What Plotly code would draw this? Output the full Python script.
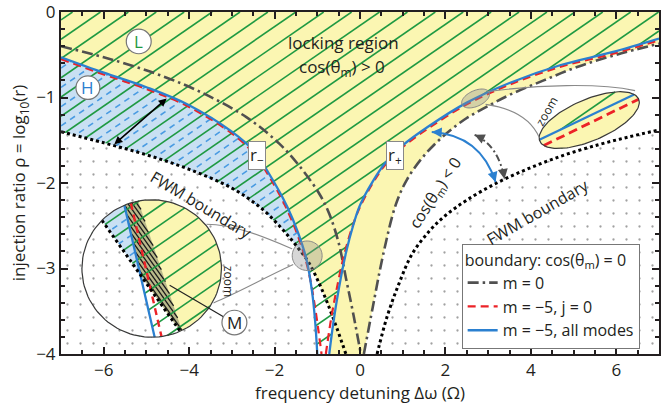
import numpy as np
import plotly.graph_objects as go

# ---------------------------------------------------------------------------
# Boundary curves  (x = frequency detuning Δω in Ω,  y = ρ = log10 r)
# ---------------------------------------------------------------------------
r_minus_x = [-7.0, -6.0, -5.0, -4.0, -3.0, -2.5, -2.0, -1.7, -1.45, -1.25, -1.12, -1.05, -1.0]
r_minus_y = [-0.53, -0.71, -0.88, -1.09, -1.40, -1.62, -2.00, -2.28, -2.58, -2.90, -3.28, -3.62, -4.0]
r_plus_x = [-0.72, -0.62, -0.50, -0.33, -0.15, 0.0, 0.3, 0.6, 1.0, 1.6, 2.5, 3.5, 4.7, 5.9, 7.0]
r_plus_y = [-4.0, -3.62, -3.25, -2.82, -2.48, -2.26, -1.98, -1.76, -1.56, -1.34, -1.06, -0.83, -0.62, -0.47, -0.31]

j0_minus_x = [-7.0, -6.0, -5.0, -4.0, -3.0, -2.5, -2.0, -1.7, -1.43, -1.22, -1.07, -0.97, -0.90]
j0_minus_y = [-0.55, -0.73, -0.90, -1.11, -1.42, -1.65, -2.03, -2.32, -2.65, -3.00, -3.40, -3.74, -4.0]
j0_plus_x = [-0.80, -0.68, -0.55, -0.37, -0.17, 0.0, 0.3, 0.6, 1.0, 1.6, 2.5, 3.5, 4.7, 5.9, 7.0]
j0_plus_y = [-4.0, -3.60, -3.25, -2.84, -2.50, -2.28, -2.00, -1.78, -1.58, -1.36, -1.08, -0.85, -0.64, -0.49, -0.33]

m0_left_x = [-7.0, -6.0, -4.9, -3.8, -2.66, -1.89, -1.42, -0.96, -0.72, -0.5, -0.33, -0.15, 0.02]
m0_left_y = [-0.40, -0.53, -0.70, -0.92, -1.23, -1.54, -1.80, -2.12, -2.36, -2.70, -3.11, -3.55, -4.0]
m0_right_x = [0.09, 0.3, 0.55, 0.84, 1.1, 1.5, 2.0, 2.5, 3.0, 3.5, 4.3, 5.1, 6.0, 7.0]
m0_right_y = [-4.0, -3.45, -2.82, -2.25, -1.96, -1.68, -1.43, -1.24, -1.10, -0.97, -0.80, -0.64, -0.50, -0.37]

fwm_left_x = [-7.0, -6.0, -5.0, -4.0, -3.0, -2.3, -1.8, -1.45, -1.2, -0.95, -0.75, -0.54, -0.33]
fwm_left_y = [-1.40, -1.53, -1.67, -1.84, -2.06, -2.30, -2.55, -2.76, -2.93, -3.18, -3.42, -3.70, -4.0]
fwm_right_x = [0.40, 0.63, 0.91, 1.21, 1.61, 2.0, 2.5, 3.2, 4.0, 4.8, 5.6, 6.3, 7.0]
fwm_right_y = [-4.0, -3.57, -3.18, -2.84, -2.57, -2.38, -2.20, -2.00, -1.82, -1.67, -1.55, -1.46, -1.38]

x_ticks = [-6, -4, -2, 0, 2, 4, 6]
y_ticks = [-4, -3, -2, -1, 0]

# ---------------------------------------------------------------------------
# Styling
# ---------------------------------------------------------------------------
YELLOW = '#fbf6b2'
LIGHT_BLUE = '#c9e0f3'
GREEN = '#1f9a42'
BLUE = '#2b80d0'
DASH_BLUE = '#4a9be2'
RED = '#ec2227'
GREY = '#505050'
FONT = 'Open Sans, sans-serif'
DOTS = dict(shape='.', size=13, solidity=0.025, fgcolor='#444444', fillmode='overlay')

W, H = 661, 408
PX_L, PX_T, PX_W, PX_H = 61, 6, 600, 348      # plot area in page pixels
X0, X1, Y0, Y1 = -7, 7, -4, 0


def to_x(px):
    return X0 + (np.asarray(px, float) - PX_L) / PX_W * (X1 - X0)


def to_y(py):
    return Y1 - (np.asarray(py, float) - PX_T) / PX_H * (Y1 - Y0)


def pts_to_data(pts):
    xs = [float(to_x(p[0])) for p in pts]
    ys = [float(to_y(p[1])) for p in pts]
    return xs, ys


# --- small geometry helpers (pixel space) ----------------------------------
def x_side(a, b):
    """>0 on the larger-x side of the (steep) line through a and b."""
    s = (b[0] - a[0]) / (b[1] - a[1])
    return lambda p: p[0] - (a[0] + s * (p[1] - a[1]))


def y_side(a, b):
    """>0 below (larger pixel y) the (shallow) line through a and b."""
    s = (b[1] - a[1]) / (b[0] - a[0])
    return lambda p: p[1] - (a[1] + s * (p[0] - a[0]))


def clip_poly(poly, f):
    out = []
    n = len(poly)
    for i in range(n):
        p, q = poly[i], poly[(i + 1) % n]
        fp, fq = f(p), f(q)
        if fp >= 0:
            out.append(p)
        if (fp >= 0) != (fq >= 0):
            t = fp / (fp - fq)
            out.append((p[0] + t * (q[0] - p[0]), p[1] + t * (q[1] - p[1])))
    return out


def clip_line(p0, p1, poly):
    cx = np.mean([p[0] for p in poly])
    cy = np.mean([p[1] for p in poly])
    d = (p1[0] - p0[0], p1[1] - p0[1])
    t0, t1 = 0.0, 1.0
    n = len(poly)
    for i in range(n):
        a, b = poly[i], poly[(i + 1) % n]
        nx, ny = -(b[1] - a[1]), b[0] - a[0]
        if nx * (cx - a[0]) + ny * (cy - a[1]) < 0:
            nx, ny = -nx, -ny
        num = nx * (p0[0] - a[0]) + ny * (p0[1] - a[1])
        den = nx * d[0] + ny * d[1]
        if abs(den) < 1e-12:
            if num < 0:
                return None
            continue
        t = -num / den
        if den > 0:
            t0 = max(t0, t)
        else:
            t1 = min(t1, t)
        if t0 > t1:
            return None
    return ((p0[0] + t0 * d[0], p0[1] + t0 * d[1]), (p0[0] + t1 * d[0], p0[1] + t1 * d[1]))


def ellipse(c, a, b, ang_deg, n=120):
    th = np.deg2rad(ang_deg)
    u = (np.cos(th), -np.sin(th))
    v = (np.sin(th), np.cos(th))
    ts = np.linspace(0, 2 * np.pi, n + 1)[:-1]
    return [(c[0] + a * np.cos(t) * u[0] + b * np.sin(t) * v[0],
             c[1] + a * np.cos(t) * u[1] + b * np.sin(t) * v[1]) for t in ts]


HATCH_K = np.tan(np.deg2rad(35))   # hatch slope (pixel space)
HATCH_STEP = 28                    # horizontal spacing of hatch lines, px


def hatch(poly, through, shift=0.0, step=HATCH_STEP, k=HATCH_K):
    """Diagonal hatch segments clipped to a convex pixel polygon."""
    xs_p = [p[0] for p in poly]
    ys_p = [p[1] for p in poly]
    xmin, xmax, ymin, ymax = min(xs_p), max(xs_p), min(ys_p), max(ys_p)
    span = abs(xmax - xmin) + (ymax - ymin) / abs(k)
    base = through[0] + (through[1] - ymin) / k + shift
    n0 = int(np.floor((xmin - span - base) / step)) - 1
    n1 = int(np.ceil((xmax + span - base) / step)) + 1
    segs = []
    L = span + 50
    for n in range(n0, n1 + 1):
        xi = base + n * step
        p0 = (xi - L, ymin + k * L)
        p1 = (xi + L, ymin - k * L)
        s = clip_line(p0, p1, poly)
        if s:
            segs.append(s)
    xs, ys = [], []
    for a, b in segs:
        dxs, dys = pts_to_data([a, b])
        xs += dxs + [None]
        ys += dys + [None]
    return xs, ys


fig = go.Figure()


def add_fill(xs, ys, color, pattern=None, outline=None, width=1.2):
    kw = dict(x=list(xs), y=list(ys), fill='toself', fillcolor=color,
              showlegend=False, hoverinfo='skip')
    if outline:
        kw.update(mode='lines', line=dict(color=outline, width=width))
    else:
        kw.update(mode='none')
    if pattern:
        kw['fillpattern'] = pattern
    fig.add_trace(go.Scatter(**kw))


def add_lines(xs, ys, color, width, dash=None):
    fig.add_trace(go.Scatter(x=xs, y=ys, mode='lines', showlegend=False, hoverinfo='skip',
                             line=dict(color=color, width=width, dash=dash)))


def crossing(ax, ay, bx, by):
    xs = np.linspace(max(min(ax), min(bx)), min(max(ax), max(bx)), 4000)
    d = np.interp(xs, ax, ay) - np.interp(xs, bx, by)
    i = np.where(np.sign(d[:-1]) != np.sign(d[1:]))[0][0]
    return float(xs[i]), float(np.interp(xs[i], ax, ay))


# ---------------------------------------------------------------------------
# Regions of the main panel
# ---------------------------------------------------------------------------
plot_rect = [(PX_L, PX_T), (PX_L + PX_W, PX_T), (PX_L + PX_W, PX_T + PX_H), (PX_L, PX_T + PX_H)]
GREEN_THROUGH = (62, 33)

# below r− : light blue (later trimmed by the FWM region)
add_fill([X0] + r_minus_x, [Y0] + r_minus_y, LIGHT_BLUE)
# dashed blue hatch
hx, hy = hatch(plot_rect, GREEN_THROUGH, shift=HATCH_STEP / 2)
add_lines(hx, hy, DASH_BLUE, 1.6, dash='6px,5px')
# yellow: cos(θm) > 0
add_fill([X0, X1] + m0_right_x[::-1] + r_minus_x[::-1],
         [Y1, Y1] + m0_right_y[::-1] + r_minus_y[::-1], YELLOW)
# white below the left FWM boundary
add_fill([X0] + fwm_left_x, [Y0] + fwm_left_y, 'white')
# green hatch: locking region
hx, hy = hatch(plot_rect, GREEN_THROUGH)
add_lines(hx, hy, GREEN, 1.6)

# stippled FWM region left of r−
xc, yc = crossing(r_minus_x, r_minus_y, fwm_left_x, fwm_left_y)
lx = [X0] + [v for v in fwm_left_x if v < xc] + [xc] + [v for v in r_minus_x if v > xc]
ly = ([Y0] + [fwm_left_y[i] for i, v in enumerate(fwm_left_x) if v < xc] + [yc]
      + [r_minus_y[i] for i, v in enumerate(r_minus_x) if v > xc])
add_fill(lx, ly, 'white', pattern=DOTS)
# right of r+ : yellow strip, then white cos(θm) < 0, then stippled FWM region
add_fill(r_plus_x + [X1], r_plus_y + [Y0], YELLOW)
add_fill(m0_right_x + [X1], m0_right_y + [Y0], 'white')
add_fill(fwm_right_x + [X1], fwm_right_y + [Y0], 'white', pattern=DOTS)

# ---------------------------------------------------------------------------
# Boundary curves
# ---------------------------------------------------------------------------
fig.add_trace(go.Scatter(x=m0_left_x + [None] + m0_right_x, y=m0_left_y + [None] + m0_right_y,
                         mode='lines', name='m = 0', line_shape='spline', hoverinfo='skip',
                         line=dict(color=GREY, width=2.6, dash='11px,4px,2.5px,4px')))
fig.add_trace(go.Scatter(x=fwm_left_x + [None] + fwm_right_x, y=fwm_left_y + [None] + fwm_right_y,
                         mode='lines', showlegend=False, line_shape='spline', hoverinfo='skip',
                         line=dict(color='black', width=3, dash='3px,3px')))
fig.add_trace(go.Scatter(x=j0_minus_x + [None] + j0_plus_x, y=j0_minus_y + [None] + j0_plus_y,
                         mode='lines', name='m = −5, j = 0', line_shape='spline', hoverinfo='skip',
                         line=dict(color=RED, width=2.2, dash='8px,5px')))
fig.add_trace(go.Scatter(x=r_minus_x + [None] + r_plus_x, y=r_minus_y + [None] + r_plus_y,
                         mode='lines', name='m = −5, all modes', line_shape='spline', hoverinfo='skip',
                         line=dict(color=BLUE, width=2.3)))

# ---------------------------------------------------------------------------
# Magnified view of the r− / FWM crossing (circle)
# ---------------------------------------------------------------------------
LC, LR = (152, 267), 70
circ = ellipse(LC, LR, LR, 0, 120)
Lb = ((124, 200), (155, 337))      # all-modes boundary
Lr = ((131, 200), (162, 337))      # j = 0 boundary
Ld = ((100, 215), (180, 330))      # FWM boundary
Lm = ((140, 203), (181, 326))      # edge of the narrow band M
right_b = x_side(*Lb)
right_d = x_side(*Ld)
left_m = lambda p: -x_side(*Lm)(p)

add_fill(*pts_to_data(circ), LIGHT_BLUE)
hx, hy = hatch(circ, (150, 230), shift=HATCH_STEP / 2)
add_lines(hx, hy, DASH_BLUE, 1.6, dash='6px,5px')
yel = clip_poly(clip_poly(circ, right_b), right_d)
add_fill(*pts_to_data(yel), YELLOW)
wht = clip_poly(circ, lambda p: -right_d(p))
add_fill(*pts_to_data(wht), 'white')
band = clip_poly(clip_poly(clip_poly(circ, right_b), right_d), left_m)
add_fill(*pts_to_data(band), '#b9b98a')
hx, hy = hatch(band, (130, 210), step=4.5, k=-np.tan(np.deg2rad(55)))
add_lines(hx, hy, '#1a1a1a', 1.3)
hx, hy = hatch(circ, (150, 230))
add_lines(hx, hy, GREEN, 1.6)
dots = clip_poly(clip_poly(circ, lambda p: -right_d(p)), lambda p: -right_b(p))
add_fill(*pts_to_data(dots), 'white', pattern=DOTS)
for ln, col, wd, ds in [(Lr, RED, 2.4, '7px,5px'), (Lb, BLUE, 2.3, None), (Ld, 'black', 3, '3px,3px')]:
    a, b = ln
    s = clip_line((a[0] - 3 * (b[0] - a[0]), a[1] - 3 * (b[1] - a[1])),
                  (b[0] + 3 * (b[0] - a[0]), b[1] + 3 * (b[1] - a[1])), circ)
    sx, sy = pts_to_data(list(s))
    add_lines(sx, sy, col, wd, dash=ds)
cx_, cy_ = pts_to_data(circ + [circ[0]])
add_lines(cx_, cy_, '#3a3a3a', 1.2)

# ---------------------------------------------------------------------------
# Magnified view along r+ (ellipse)
# ---------------------------------------------------------------------------
EC = (591, 116)
ell = ellipse(EC, 54, 21, 23.5, 120)
Eb = ((543, 135), (640, 88))
Er = ((547, 141), (632, 99))
add_fill(*pts_to_data(ell), YELLOW)
hx, hy = hatch(ell, (600, 60))
add_lines(hx, hy, GREEN, 1.6)
below = clip_poly(ell, y_side(*Eb))
add_fill(*pts_to_data(below), YELLOW)
for ln, col, wd, ds in [(Er, RED, 2.8, '9px,5px'), (Eb, BLUE, 2.3, None)]:
    a, b = ln
    s = clip_line((a[0] - 2 * (b[0] - a[0]), a[1] - 2 * (b[1] - a[1])),
                  (b[0] + 2 * (b[0] - a[0]), b[1] + 2 * (b[1] - a[1])), ell)
    sx, sy = pts_to_data(list(s))
    add_lines(sx, sy, col, wd, dash=ds)
ex_, ey_ = pts_to_data(ell + [ell[0]])
add_lines(ex_, ey_, '#3a3a3a', 1.2)

# ---------------------------------------------------------------------------
# Shapes: zoom markers, connectors, circled labels
# ---------------------------------------------------------------------------
def path_px(cmds):
    out = []
    for c in cmds:
        if isinstance(c, str):
            out.append(c)
        else:
            out.append(f"{float(to_x(c[0])):.4f},{float(to_y(c[1])):.4f}")
    return ' '.join(out)


shapes = []
# small translucent markers
mk = ellipse((308, 254), 15, 15, 0, 60)
shapes.append(dict(type='path', path=path_px(['M'] + [p for q in mk for p in (q, 'L')][:-1] + ['Z']),
                   fillcolor='rgba(140,140,140,0.35)', line=dict(color='#888', width=1)))
mk2 = ellipse((477, 94), 15, 8, 25, 60)
shapes.append(dict(type='path', path=path_px(['M'] + [p for q in mk2 for p in (q, 'L')][:-1] + ['Z']),
                   fillcolor='rgba(140,140,140,0.35)', line=dict(color='#888', width=1)))
# connectors
for cmd in (['M', (293, 247), 'C', (265, 235), (235, 222), (207, 222)],
            ['M', (294, 263), 'C', (262, 278), (238, 292), (214, 302)],
            ['M', (489, 87), 'C', (540, 80), (600, 78), (637, 86)],
            ['M', (487, 100), 'C', (515, 104), (533, 115), (541, 134)]):
    shapes.append(dict(type='path', path=path_px(cmd), line=dict(color='#8a8a8a', width=1.1)))
# pointer to band M
shapes.append(dict(type='line', x0=float(to_x(224)), y0=float(to_y(316)), x1=float(to_x(170)),
                   y1=float(to_y(284)), line=dict(color='#222', width=1.2)))
# curved double arrows
shapes.append(dict(type='path', path=path_px(['M', (433, 128), 'Q', (482, 131), (497, 179)]),
                   line=dict(color=BLUE, width=2)))
shapes.append(dict(type='path', path=path_px(['M', (476, 131), 'Q', (500, 142), (506, 176)]),
                   line=dict(color=GREY, width=2, dash='7px,3px,2px,3px')))
# circled labels
for (cxp, cyp, rr) in [(139, 36, 12.5), (88, 83, 12), (235, 322, 12.5)]:
    shapes.append(dict(type='circle', x0=float(to_x(cxp - rr)), x1=float(to_x(cxp + rr)),
                       y0=float(to_y(cyp + rr)), y1=float(to_y(cyp - rr)),
                       fillcolor='white', line=dict(color='#777', width=1.2)))

annotations = []


def text_px(px, py, txt, size=16, angle=0, color='#231f20', **kw):
    annotations.append(dict(x=float(to_x(px)), y=float(to_y(py)), text=txt, showarrow=False,
                            textangle=angle, xanchor='center', yanchor='middle',
                            font=dict(size=size, color=color, family=FONT), **kw))


text_px(344, 37, 'locking region', 17)
text_px(343, 62, 'cos(θ<sub>m</sub>) &gt; 0', 17)
text_px(139, 36, 'L', 17, color=GREEN)
text_px(88, 83, 'H', 17, color=BLUE)
text_px(235, 322, 'M', 17, color='#222')
text_px(258, 152, 'r<sub>−</sub>', 17, bgcolor='white', bordercolor='#888', borderwidth=1, borderpad=1)
text_px(396, 152, 'r<sub>+</sub>', 17, bgcolor='white', bordercolor='#888', borderwidth=1, borderpad=1)
text_px(202, 202, 'FWM boundary', 16, angle=31)
text_px(539, 209, 'FWM boundary', 16, angle=-30)
text_px(437, 190, 'cos(θ<sub>m</sub>) &lt; 0', 16, angle=-57)
text_px(229, 280, 'zoom', 12, angle=90)
text_px(548, 107, 'zoom', 12, angle=-60)


def arrow_head(tip, towards, color, width=2):
    ux, uy = towards[0] - tip[0], towards[1] - tip[1]
    nrm = np.hypot(ux, uy)
    annotations.append(dict(x=float(to_x(tip[0])), y=float(to_y(tip[1])), text='', showarrow=True,
                            ax=9 * ux / nrm, ay=9 * uy / nrm, arrowhead=2, arrowsize=1,
                            arrowwidth=width, arrowcolor=color, standoff=0))


arrow_head((433, 128), (482, 131), BLUE)
arrow_head((497, 179), (482, 131), BLUE)
arrow_head((476, 131), (500, 142), GREY)
arrow_head((506, 176), (500, 142), GREY)
annotations.append(dict(x=float(to_x(167)), y=float(to_y(94)), ax=float(to_x(113)), ay=float(to_y(142)),
                        axref='x', ayref='y', text='', showarrow=True, arrowhead=2,
                        arrowside='end+start', arrowsize=1, arrowwidth=1.6, arrowcolor='black'))

# ---------------------------------------------------------------------------
# Layout
# ---------------------------------------------------------------------------
axis_common = dict(showgrid=False, zeroline=False, showline=True, linecolor='#231f20', linewidth=2,
                   mirror='allticks', ticks='inside', ticklen=7, tickwidth=1.5, tickcolor='#231f20',
                   ticklabeloverflow='allow',
                   tickfont=dict(size=17, family=FONT, color='#231f20'))
fig.update_layout(
    width=W, height=H,
    margin=dict(l=PX_L, r=W - PX_L - PX_W, t=PX_T, b=H - PX_T - PX_H),
    plot_bgcolor='white', paper_bgcolor='white',
    font=dict(family=FONT, size=16, color='#231f20'),
    xaxis=dict(range=[X0, X1], tickvals=x_ticks, ticktext=[f'{v}'.replace('-', '−') for v in x_ticks],
               minor=dict(dtick=0.5, ticklen=4, tickcolor='#231f20', ticks='inside'),
               title=dict(text='frequency detuning Δω (Ω)', font=dict(size=17, family=FONT), standoff=4),
               **axis_common),
    yaxis=dict(range=[Y0, Y1], tickvals=y_ticks, ticktext=[f'{v}'.replace('-', '−') for v in y_ticks],
               minor=dict(dtick=0.2, ticklen=4, tickcolor='#231f20', ticks='inside'),
               title=dict(text='injection ratio ρ = log<sub>10</sub>(r)', font=dict(size=17, family=FONT),
                          standoff=6),
               **axis_common),
    showlegend=True,
    legend=dict(x=(463 - PX_L) / PX_W, y=1 - (242 - PX_T) / PX_H, xanchor='left', yanchor='top',
                bgcolor='white', bordercolor='#777', borderwidth=1,
                font=dict(size=16, family=FONT), itemwidth=30, tracegroupgap=0,
                title=dict(text='boundary: cos(θ<sub>m</sub>) = 0', font=dict(size=16, family=FONT))),
    shapes=shapes,
    annotations=annotations,
)

fig.write_html('out.html')
